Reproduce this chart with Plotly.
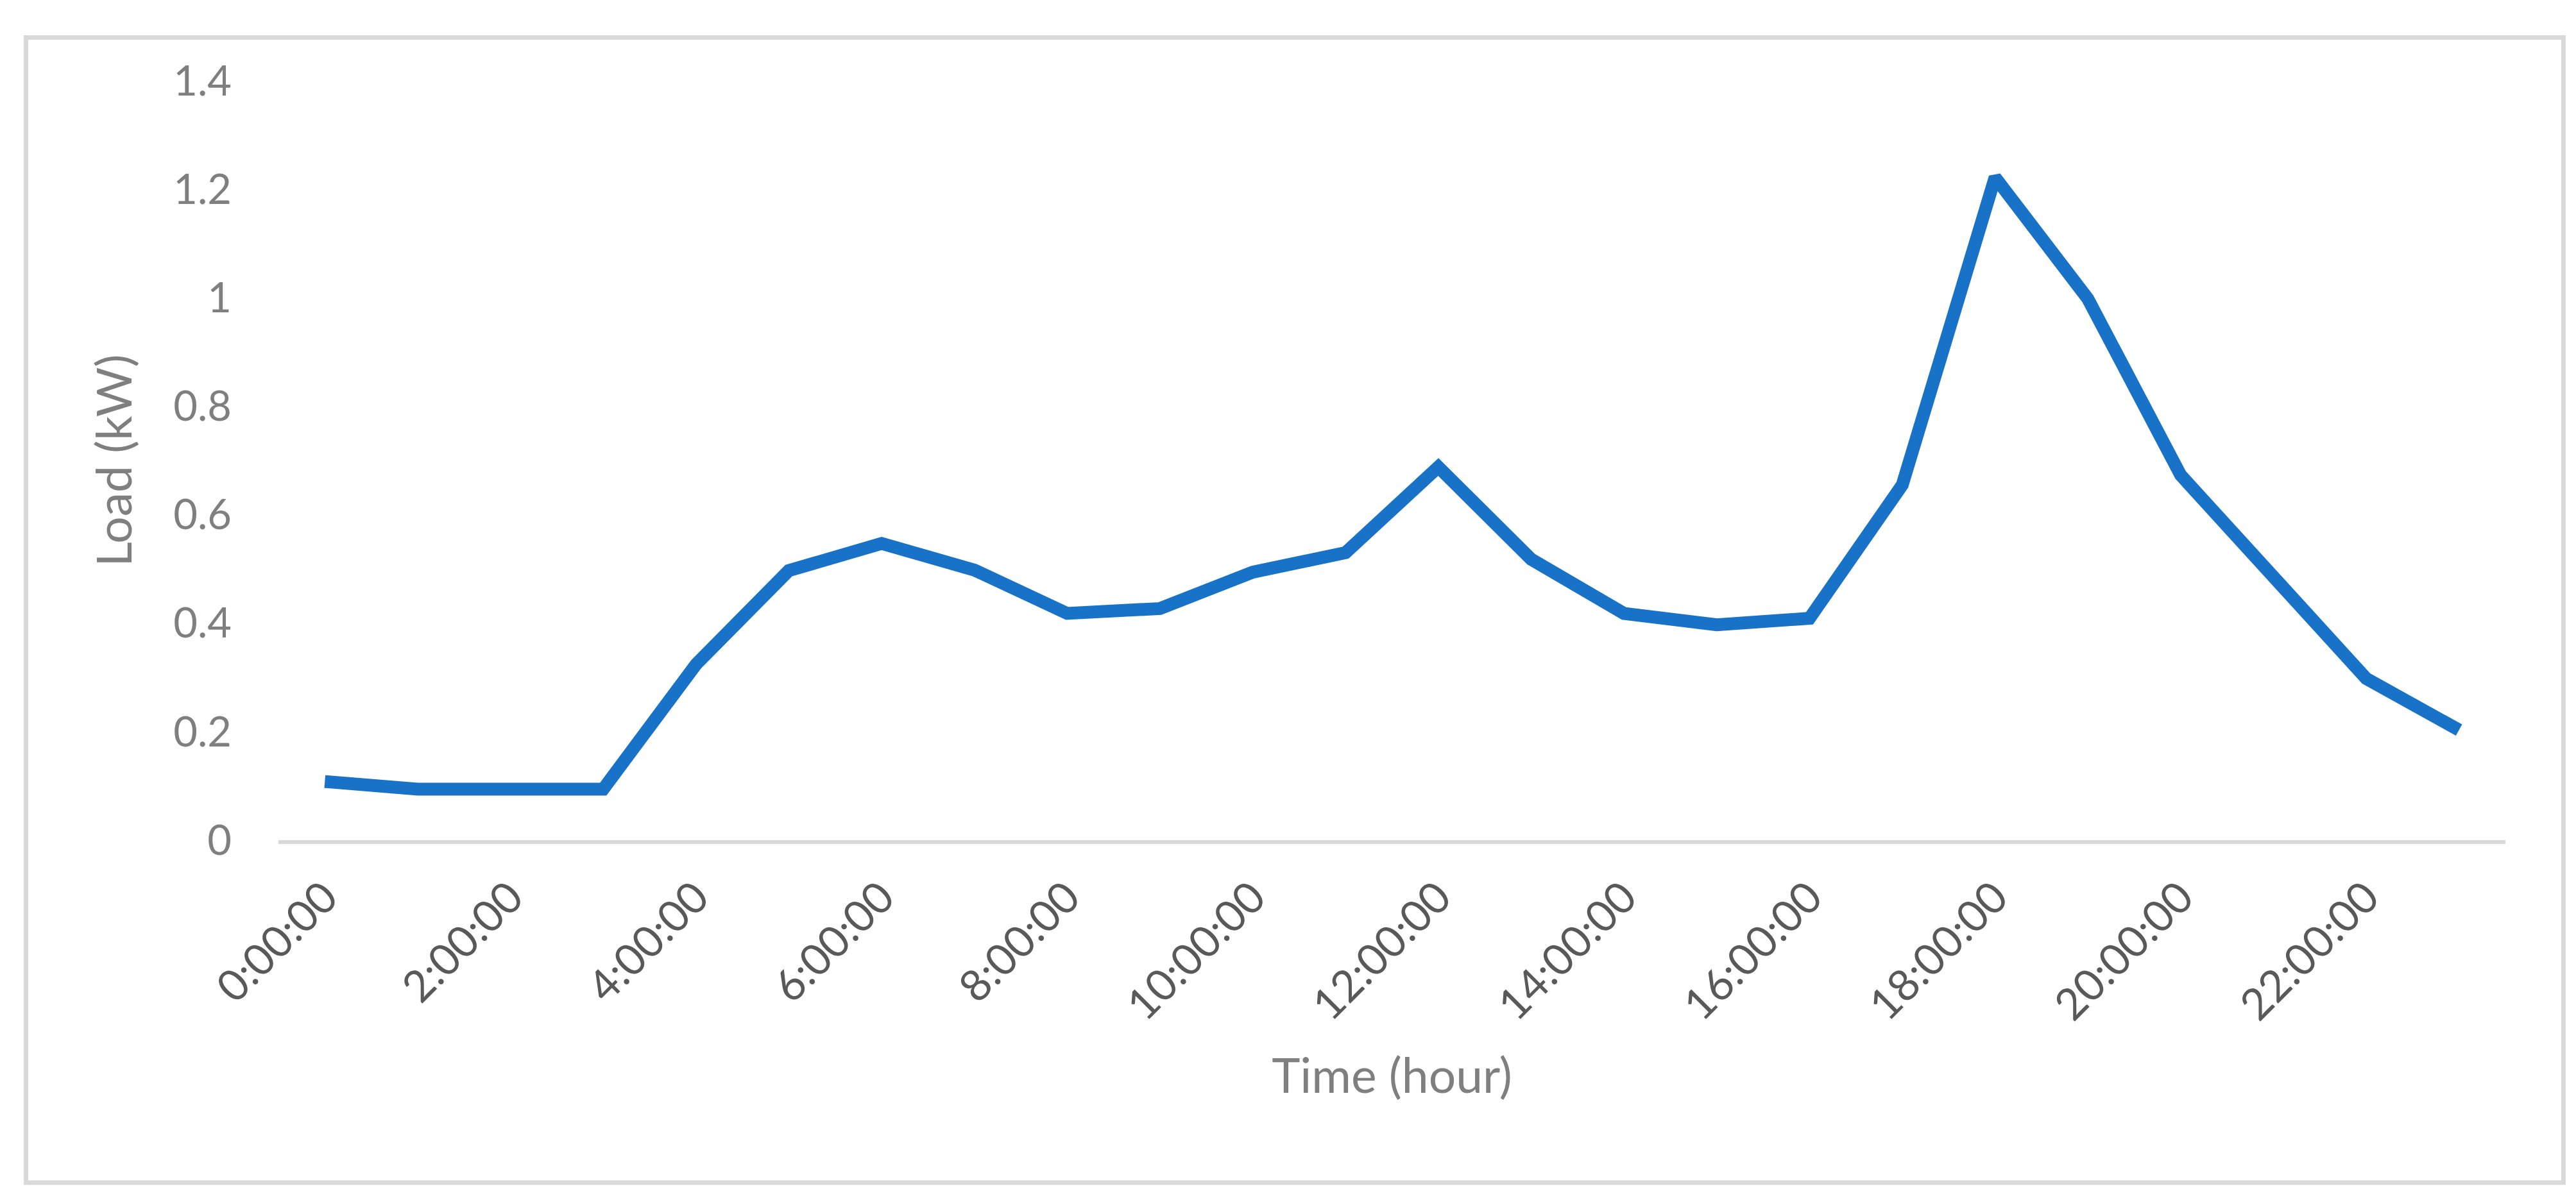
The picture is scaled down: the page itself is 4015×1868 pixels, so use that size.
import plotly.graph_objects as go

# ---- data ----
hours = ["0:00:00", "1:00:00", "2:00:00", "3:00:00", "4:00:00", "5:00:00",
         "6:00:00", "7:00:00", "8:00:00", "9:00:00", "10:00:00", "11:00:00",
         "12:00:00", "13:00:00", "14:00:00", "15:00:00", "16:00:00", "17:00:00",
         "18:00:00", "19:00:00", "20:00:00", "21:00:00", "22:00:00", "23:00:00"]
load_kw = [0.108, 0.094, 0.094, 0.094, 0.324, 0.497, 0.547, 0.498, 0.418, 0.427,
           0.494, 0.530, 0.688, 0.518, 0.418, 0.397, 0.409, 0.655, 1.222, 0.998,
           0.673, 0.482, 0.298, 0.203]
tick_shown = hours[::2]
y_ticks = [0, 0.2, 0.4, 0.6, 0.8, 1, 1.2, 1.4]
y_tick_text = ["0", "0.2", "0.4", "0.6", "0.8", "1", "1.2", "1.4"]

# ---- layout geometry (pixels) ----
W, H = 4015, 1868
L, R, T, B = 426, 3897, 118, 1302
FONT = "Lato"

fig = go.Figure()
fig.add_trace(go.Scatter(
    x=hours, y=load_kw, mode="lines",
    line=dict(color="#1873C8", width=20),
    showlegend=False, hoverinfo="x+y"))

def px_to_paper_x(px):
    return (px - L) / (R - L)

def px_to_paper_y(py):
    return (B - py) / (B - T)

fig.add_shape(type="rect", xref="paper", yref="paper",
              x0=px_to_paper_x(32.5), x1=px_to_paper_x(3987.5),
              y0=px_to_paper_y(1836), y1=px_to_paper_y(50.5),
              line=dict(color="#D9D9D9", width=7), fillcolor="rgba(0,0,0,0)",
              layer="below")

fig.update_layout(
    width=W, height=H,
    margin=dict(l=L, r=W - R, t=T, b=H - B, autoexpand=False),
    paper_bgcolor="white", plot_bgcolor="white",
    font=dict(family=FONT),
    xaxis=dict(
        type="category", categoryorder="array", categoryarray=hours,
        range=[-0.5, len(hours) - 0.5],
        tickmode="array", tickvals=tick_shown, ticktext=tick_shown,
        tickangle=-45, ticklabelstandoff=16,
        tickfont=dict(family=FONT, size=68, color="#595959"),
        showline=True, linecolor="#D9D9D9", linewidth=6,
        showgrid=False, zeroline=False, ticks="",
        title=dict(text="Time (hour)", font=dict(family=FONT, size=75, color="#7F7F7F"),
                   standoff=50),
        automargin=False, fixedrange=True,
    ),
    yaxis=dict(
        range=[0, 1.4], tickmode="array", tickvals=y_ticks, ticktext=y_tick_text,
        tickfont=dict(family=FONT, size=65, color="#7F7F7F"),
        ticklabelstandoff=72,
        showline=False, showgrid=False, zeroline=False, ticks="",
        title=dict(text="Load (kW)", font=dict(family=FONT, size=75, color="#7F7F7F"),
                   standoff=40),
        automargin=False, fixedrange=True,
    ),
)

fig.write_html("out.html")
